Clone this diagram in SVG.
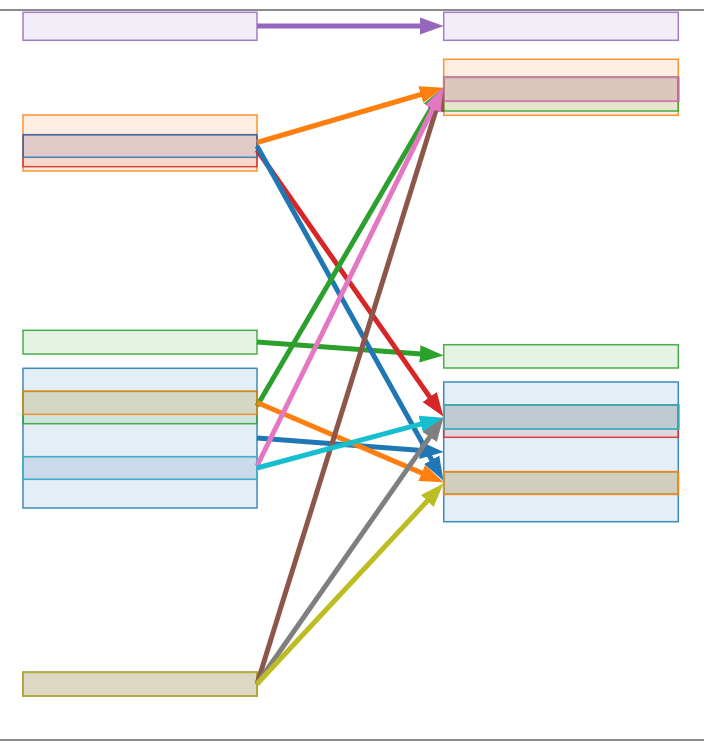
<svg xmlns="http://www.w3.org/2000/svg" width="704" height="754" viewBox="0 0 704 754">
<style>
.b{stroke-width:1.5;fill-opacity:0.12;stroke-opacity:0.85}
.a{stroke-width:5;fill:none;stroke-linecap:butt}
.blue{fill:#1f77b4;stroke:#1f77b4}
.orange{fill:#ff7f0e;stroke:#ff7f0e}
.green{fill:#2ca02c;stroke:#2ca02c}
.red{fill:#d62728;stroke:#d62728}
.purple{fill:#9467bd;stroke:#9467bd}
.brown{fill:#8c564b;stroke:#8c564b}
.pink{fill:#e377c2;stroke:#e377c2}
.gray{fill:#7f7f7f;stroke:#7f7f7f}
.olive{fill:#bcbd22;stroke:#bcbd22}
.cyan{fill:#17becf;stroke:#17becf}
</style>
<defs>
<marker id="h-purple" markerUnits="userSpaceOnUse" markerWidth="26" markerHeight="20" viewBox="0 -9 24 18" refX="14" refY="0" orient="auto"><path d="M0,-8 L22,0 L0,8 z" fill="#9467bd"/></marker>
<marker id="h-orange" markerUnits="userSpaceOnUse" markerWidth="26" markerHeight="20" viewBox="0 -9 24 18" refX="14" refY="0" orient="auto"><path d="M0,-8 L22,0 L0,8 z" fill="#ff7f0e"/></marker>
<marker id="h-red" markerUnits="userSpaceOnUse" markerWidth="26" markerHeight="20" viewBox="0 -9 24 18" refX="14" refY="0" orient="auto"><path d="M0,-8 L22,0 L0,8 z" fill="#d62728"/></marker>
<marker id="h-blue" markerUnits="userSpaceOnUse" markerWidth="26" markerHeight="20" viewBox="0 -9 24 18" refX="14" refY="0" orient="auto"><path d="M0,-8 L22,0 L0,8 z" fill="#1f77b4"/></marker>
<marker id="h-green" markerUnits="userSpaceOnUse" markerWidth="26" markerHeight="20" viewBox="0 -9 24 18" refX="14" refY="0" orient="auto"><path d="M0,-8 L22,0 L0,8 z" fill="#2ca02c"/></marker>
<marker id="h-pink" markerUnits="userSpaceOnUse" markerWidth="26" markerHeight="20" viewBox="0 -9 24 18" refX="14" refY="0" orient="auto"><path d="M0,-8 L22,0 L0,8 z" fill="#e377c2"/></marker>
<marker id="h-cyan" markerUnits="userSpaceOnUse" markerWidth="26" markerHeight="20" viewBox="0 -9 24 18" refX="14" refY="0" orient="auto"><path d="M0,-8 L22,0 L0,8 z" fill="#17becf"/></marker>
<marker id="h-brown" markerUnits="userSpaceOnUse" markerWidth="26" markerHeight="20" viewBox="0 -9 24 18" refX="14" refY="0" orient="auto"><path d="M0,-8 L22,0 L0,8 z" fill="#8c564b"/></marker>
<marker id="h-gray" markerUnits="userSpaceOnUse" markerWidth="26" markerHeight="20" viewBox="0 -9 24 18" refX="14" refY="0" orient="auto"><path d="M0,-8 L22,0 L0,8 z" fill="#7f7f7f"/></marker>
<marker id="h-olive" markerUnits="userSpaceOnUse" markerWidth="26" markerHeight="20" viewBox="0 -9 24 18" refX="14" refY="0" orient="auto"><path d="M0,-8 L22,0 L0,8 z" fill="#bcbd22"/></marker>
</defs>
<rect x="0" y="0" width="704" height="754" fill="#ffffff"/>
<g id="frame" stroke="#666666" stroke-width="1.5">
<line x1="0" y1="10" x2="704" y2="10"/>
<line x1="0" y1="740" x2="704" y2="740"/>
</g>
<g id="left-nodes">
<g id="L-purple"><rect class="b purple" x="23" y="12.3" width="234" height="28"/></g>
<g id="L-orange"><rect class="b orange" x="23" y="115" width="234" height="56"/></g>
<g id="L-red"><rect class="b red" x="23" y="134.7" width="234" height="32"/></g>
<g id="L-blue"><rect class="b blue" x="23" y="134.7" width="234" height="22.6"/></g>
<g id="L-green"><rect class="b green" x="23" y="330.3" width="234" height="23.7"/></g>
<g id="L-bluebig"><rect class="b blue" x="23" y="368.3" width="234" height="139.7"/></g>
<g id="L-green2"><rect class="b green" x="23" y="391.3" width="234" height="32.4"/></g>
<g id="L-orange2"><rect class="b orange" x="23" y="391.3" width="234" height="23"/></g>
<g id="L-pink"><rect class="b pink" x="23" y="456.7" width="234" height="22.6"/></g>
<g id="L-cyan"><rect class="b cyan" x="23" y="456.7" width="234" height="22.6"/></g>
<g id="L-brown"><rect class="b brown" x="23" y="672.3" width="234" height="23.7"/></g>
<g id="L-gray"><rect class="b gray" x="23" y="672.3" width="234" height="23.7"/></g>
<g id="L-olive"><rect class="b olive" x="23" y="672.3" width="234" height="23.7"/></g>
</g>
<g id="right-nodes">
<g id="R-purple"><rect class="b purple" x="443.7" y="12.3" width="234.6" height="28"/></g>
<g id="R-orange"><rect class="b orange" x="443.7" y="59.3" width="234.6" height="56"/></g>
<g id="R-green"><rect class="b green" x="443.7" y="77.3" width="234.6" height="33.7"/></g>
<g id="R-brown"><rect class="b brown" x="443.7" y="77.3" width="234.6" height="24"/></g>
<g id="R-pink"><rect class="b pink" x="443.7" y="77.3" width="235.3" height="24"/></g>
<g id="R-green2"><rect class="b green" x="443.7" y="344.7" width="234.6" height="23.3"/></g>
<g id="R-bluebig"><rect class="b blue" x="443.7" y="382" width="234.6" height="139.7"/></g>
<g id="R-red"><rect class="b red" x="443.7" y="405" width="234.6" height="32.3"/></g>
<g id="R-gray"><rect class="b gray" x="443.7" y="405" width="234.6" height="24"/></g>
<g id="R-cyan"><rect class="b cyan" x="443.7" y="405" width="235.3" height="24"/></g>
<g id="R-blue"><rect class="b blue" x="443.7" y="471.7" width="234.6" height="22.6"/></g>
<g id="R-olive"><rect class="b olive" x="443.7" y="471.7" width="234.6" height="22.6"/></g>
<g id="R-orange2"><rect class="b orange" x="443.7" y="471.7" width="234.6" height="22.6" stroke-width="2"/></g>
</g>
<g id="connectors" class="a">
<line class="a" stroke="#9467bd" x1="257" y1="26" x2="435" y2="26" marker-end="url(#h-purple)"/>
<line class="a" stroke="#2ca02c" x1="257" y1="342" x2="435" y2="354.9" marker-end="url(#h-green)"/>
<line class="a" stroke="#d62728" x1="257" y1="150" x2="438.4" y2="409.4" marker-end="url(#h-red)"/>
<line class="a" stroke="#1f77b4" x1="257" y1="146" x2="439.1" y2="473" marker-end="url(#h-blue)"/>
<line class="a" stroke="#2ca02c" x1="257" y1="406" x2="439" y2="94.9" marker-end="url(#h-green)"/>
<line class="a" stroke="#ff7f0e" x1="257" y1="142.5" x2="435.3" y2="90.25" marker-end="url(#h-orange)"/>
<line class="a" stroke="#1f77b4" x1="257" y1="438" x2="435" y2="451.4" marker-end="url(#h-blue)"/>
<line class="a" stroke="#ff7f0e" x1="257" y1="402.5" x2="435.6" y2="478.9" marker-end="url(#h-orange)"/>
<line class="a" stroke="#8c564b" x1="257" y1="684" x2="440.6" y2="95.6" marker-end="url(#h-brown)"/>
<line class="a" stroke="#e377c2" x1="257" y1="466" x2="439.5" y2="95.2" marker-end="url(#h-pink)"/>
<line class="a" stroke="#17becf" x1="257" y1="468" x2="435.3" y2="420.1" marker-end="url(#h-cyan)"/>
<line class="a" stroke="#7f7f7f" x1="257" y1="684" x2="438.4" y2="424.6" marker-end="url(#h-gray)"/>
<line class="a" stroke="#bcbd22" x1="257" y1="684" x2="437.6" y2="489.9" marker-end="url(#h-olive)"/>
</g>
</svg>
